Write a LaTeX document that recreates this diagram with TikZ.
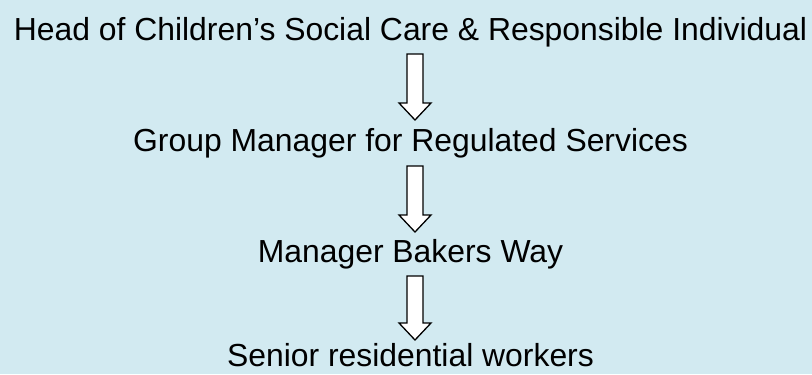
\documentclass[tikz,border=0pt]{standalone}
\usepackage{fontspec}
\setmainfont{Liberation Sans}
\usetikzlibrary{calc}
\definecolor{bgblue}{RGB}{210,234,241}
\tikzset{
  label/.style={anchor=base, inner sep=0pt, font=\fontsize{32}{38}\selectfont, text=black},
  downarrow/.style={draw=black, fill=white, line width=1.3bp, line join=miter}
}
\newcommand{\downarr}[2]{%
  \draw[downarrow] ($(#1)+(-8,0)$) -- ($(#1)+(8,0)$) -- ($(#1)+(8,#2-17)$) -- ($(#1)+(16,#2-17)$)
     -- ($(#1)+(0,#2)$) -- ($(#1)+(-16,#2-17)$) -- ($(#1)+(-8,#2-17)$) -- cycle;}
\begin{document}
\begin{tikzpicture}[x=1bp,y=-1bp]
\fill[bgblue] (0,0) rectangle (812,374);
\useasboundingbox (0,0) rectangle (812,374);
\node[label] (t1) at (410.5,40) {Head of Children’s Social Care \& Responsible Individual};
\node[label] (t2) at (410.5,151) {Group Manager for Regulated Services};
\node[label] (t3) at (410.5,262) {Manager Bakers Way};
\node[label] (t4) at (410.5,366.5) {Senior residential workers};
\coordinate (a1) at (415,54);
\coordinate (a2) at (415,166);
\coordinate (a3) at (415,276);
\downarr{a1}{66}
\downarr{a2}{66}
\downarr{a3}{64}
\end{tikzpicture}
\end{document}
